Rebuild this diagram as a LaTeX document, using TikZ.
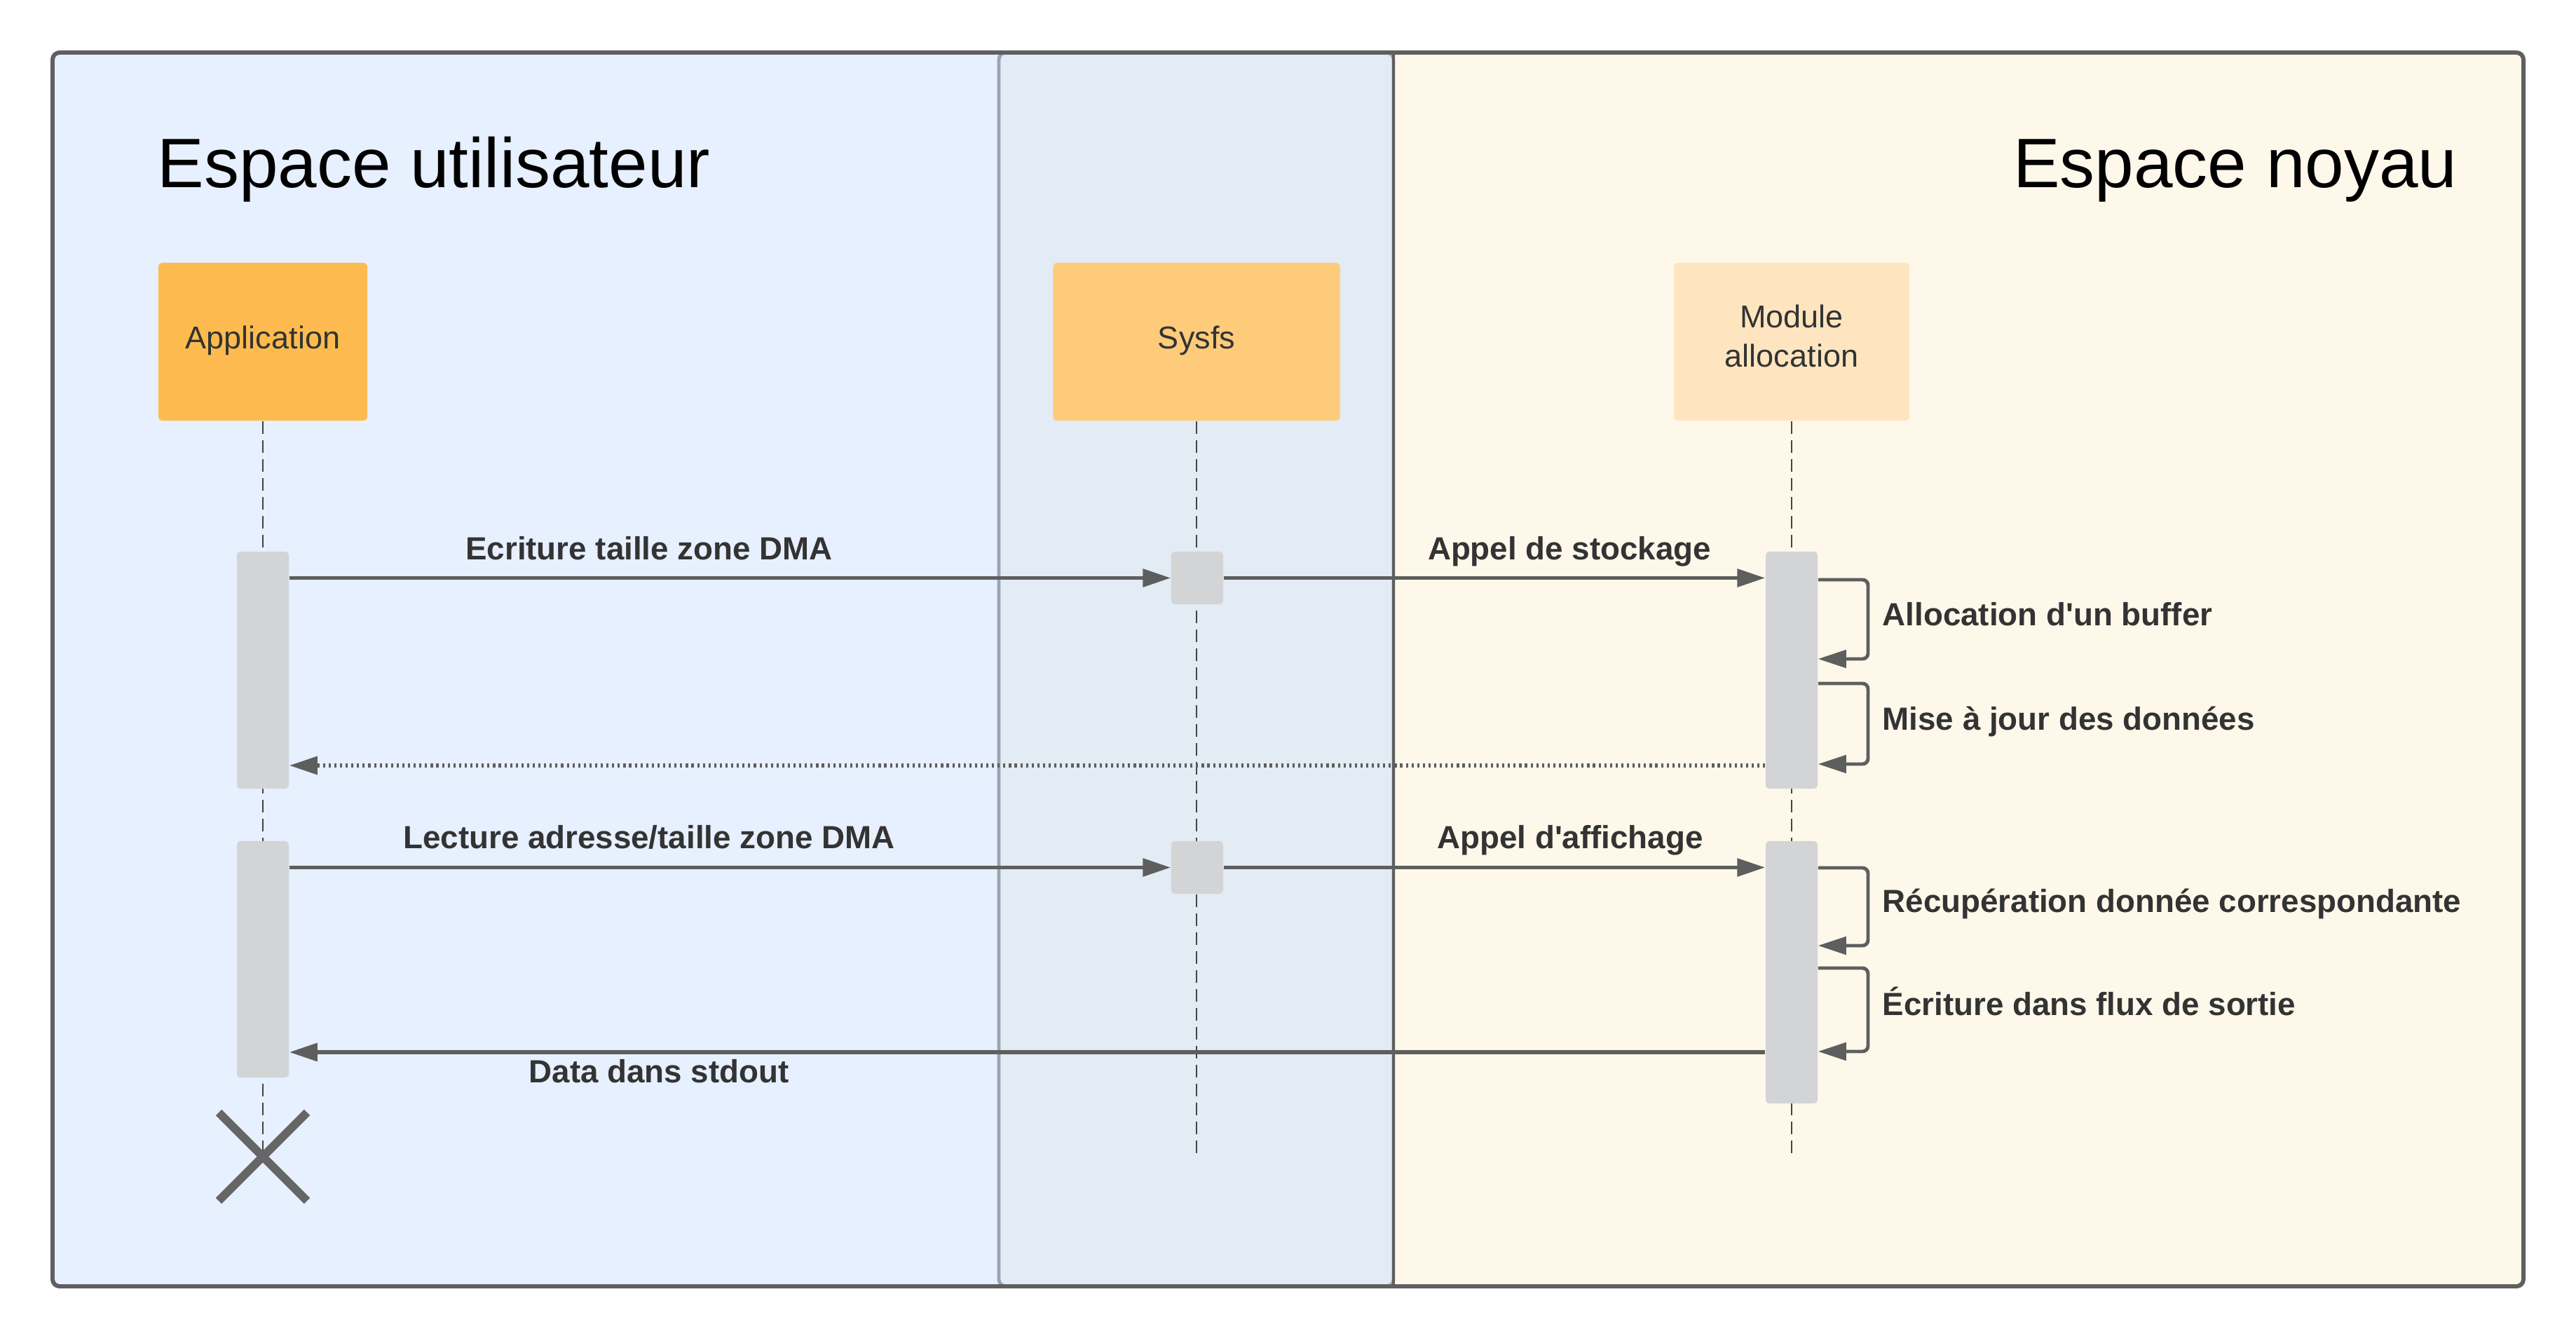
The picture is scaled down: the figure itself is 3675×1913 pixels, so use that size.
\documentclass[tikz,border=0pt]{standalone}
\usepackage{fontspec}
\setmainfont{Liberation Sans}
\usetikzlibrary{arrows.meta,calc}
\definecolor{framec}{HTML}{5F5F5F}
\definecolor{userbg}{HTML}{E6F0FE}
\definecolor{sysbg}{HTML}{E3EBF4}
\definecolor{kernbg}{HTML}{FEF8EA}
\definecolor{sysline}{HTML}{9AA5B3}
\definecolor{actA}{HTML}{FDBB4F}
\definecolor{actS}{HTML}{FDCB7A}
\definecolor{actM}{HTML}{FEE5C0}
\definecolor{barc}{HTML}{D3D4D6}
\definecolor{txtc}{HTML}{333333}
\definecolor{arrc}{HTML}{5E5E5E}
\definecolor{lifec}{HTML}{444444}
\definecolor{crossc}{HTML}{666666}
\tikzset{
  actor/.style={rectangle, rounded corners=0.06cm, minimum height=2.25cm, inner sep=0pt,
    text=txtc, font=\fontsize{12.8}{15.8}\selectfont, align=center},
  actbar/.style={rectangle, rounded corners=0.05cm, fill=barc, minimum width=0.74cm, inner sep=0pt},
  msg/.style={draw=arrc, line width=1.7pt, -{Triangle[length=0.4cm,width=0.25cm]}},
  retmsg/.style={msg, dash pattern=on 0.9pt off 1.4pt},
  selfmsg/.style={msg, line width=1.4pt, rounded corners=0.08cm},
  lifeline/.style={draw=lifec, line width=0.55pt, dash pattern=on 0.18cm off 0.09cm},
  lbl/.style={font=\bfseries\fontsize{13}{15.5}\selectfont, text=txtc, inner sep=0pt},
  ttl/.style={font=\fontsize{28.4}{34}\selectfont, text=black, inner sep=0pt}
}
\begin{document}
\begin{tikzpicture}[x=0.01cm,y=-0.01cm]
\useasboundingbox (0,0) rectangle (3675,1913);
\fill[white] (0,0) rectangle (3675,1913);
% panels
\begin{scope}
  \clip[rounded corners=0.1cm] (75,75) rectangle (3600,1835);
  \fill[userbg] (75,75) rectangle (1425,1835);
  \fill[kernbg] (1988,75) rectangle (3600,1835);
\end{scope}
\draw[sysline, line width=1.4pt, fill=sysbg, rounded corners=0.1cm] (1425,75) rectangle (1988,1835);
\draw[framec, line width=1.4pt] (1988,75) -- (1988,1835);
\draw[framec, line width=1.7pt, rounded corners=0.1cm] (75,75) rectangle (3600,1835);
% titles
\node[ttl, anchor=base west] (tuser) at (224,268) {Espace utilisateur};
\node[ttl, anchor=base east] (tkern) at (3506,268) {Espace noyau};
% actors
\node[actor, fill=actA, minimum width=2.98cm] (app) at (375,487.5) {};
\node[actor, minimum height=0pt, yshift=0.02cm] (apptxt) at (app.center) {Application};
\node[actor, fill=actS, minimum width=4.09cm] (sys) at (1707,487.5) {};
\node[actor, minimum height=0pt, yshift=0.02cm] (systxt) at (sys.center) {Sysfs};
\node[actor, fill=actM, minimum width=3.36cm] (mod) at (2556,487.5) {};
\node[actor, minimum height=0pt, yshift=0.08cm] (modtxt) at (mod.center) {Module\\allocation};
% lifelines
\coordinate (appEnd) at (375,1650);
\coordinate (sysEnd) at (1707,1649);
\coordinate (modEnd) at (2556,1649);
\draw[lifeline] (app.south) -- (appEnd);
\draw[lifeline] (sys.south) -- (sysEnd);
\draw[lifeline] (mod.south) -- (modEnd);
% activation bars
\node[actbar, minimum height=3.38cm] (a1) at (375,956) {};
\node[actbar, minimum height=3.37cm] (a2) at (375,1368.5) {};
\node[actbar, minimum height=0.75cm] (s1) at (1708,824.5) {};
\node[actbar, minimum height=0.75cm] (s2) at (1708,1237.5) {};
\node[actbar, minimum height=3.38cm] (m1) at (2556,956) {};
\node[actbar, minimum height=3.74cm] (m2) at (2556,1387) {};
% first sequence
\draw[msg] (a1.east |- s1.west) -- (s1.west);
\node[lbl, anchor=base] (l1) at (926,799) {Ecriture taille zone DMA};
\draw[msg] (s1.east) -- (m1.west |- s1.east);
\node[lbl, anchor=base] (l2) at (2239,799) {Appel de stockage};
\draw[selfmsg] (m1.east |- 0,827) -- (2665,827) -- (2665,940) -- (m1.east |- 0,940);
\node[lbl, anchor=base west] (l3) at (2685,893) {Allocation d\textquotesingle un buffer};
\draw[selfmsg] (m1.east |- 0,975) -- (2665,975) -- (2665,1090) -- (m1.east |- 0,1090);
\node[lbl, anchor=base west] (l4) at (2685,1042) {Mise à jour des données};
\draw[retmsg] (m1.west |- 0,1092) -- (a1.east |- 0,1092);
% second sequence
\draw[msg] (a2.east |- s2.west) -- (s2.west);
\node[lbl, anchor=base] (l5) at (926,1211) {Lecture adresse/taille zone DMA};
\draw[msg] (s2.east) -- (m2.west |- s2.east);
\node[lbl, anchor=base] (l6) at (2240,1211) {Appel d\textquotesingle affichage};
\draw[selfmsg] (m2.east |- 0,1238) -- (2665,1238) -- (2665,1349) -- (m2.east |- 0,1349);
\node[lbl, anchor=base west] (l7) at (2685,1301) {Récupération donnée correspondante};
\draw[selfmsg] (m2.east |- 0,1381) -- (2665,1381) -- (2665,1500) -- (m2.east |- 0,1500);
\node[lbl, anchor=base west] (l8) at (2685,1448) {Écriture dans flux de sortie};
\draw[msg] (m2.west |- 0,1501) -- (a2.east |- 0,1501);
\node[lbl, anchor=base] (l9) at (940,1544) {Data dans stdout};
% destruction
\draw[crossc, line width=3.4pt] (appEnd) ++(-63,-63) -- ++(126,126);
\draw[crossc, line width=3.4pt] (appEnd) ++(-63,63) -- ++(126,-126);
\end{tikzpicture}
\end{document}
